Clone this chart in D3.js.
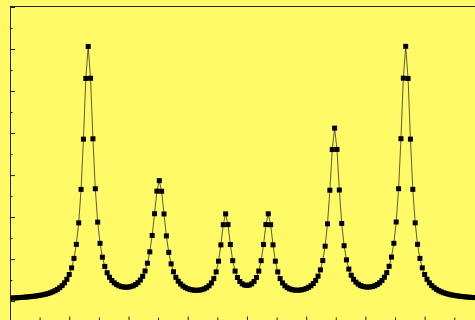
<!DOCTYPE html>
<html>
<head>
<meta charset="utf-8">
<script src="https://cdn.jsdelivr.net/npm/d3@7"></script>
<style>
    html, body { margin: 0; padding: 0; background: #fffa66; overflow: hidden; }
</style>
</head>
<body>
<div id="chart"></div>
<script>
const xValues = [
    0, 0.04, 0.08, 0.12, 0.16, 0.2, 0.24, 0.28, 0.32, 0.36,
    0.4, 0.44, 0.48, 0.52, 0.56, 0.6, 0.64, 0.68, 0.72, 0.76,
    0.8, 0.84, 0.88, 0.92, 0.96, 1, 1.04, 1.08, 1.12, 1.16,
    1.2, 1.24, 1.28, 1.32, 1.36, 1.4, 1.44, 1.48, 1.52, 1.56,
    1.6, 1.64, 1.68, 1.72, 1.76, 1.8, 1.84, 1.88, 1.92, 1.96,
    2, 2.04, 2.08, 2.12, 2.16, 2.2, 2.24, 2.28, 2.32, 2.36,
    2.4, 2.44, 2.48, 2.52, 2.56, 2.6, 2.64, 2.68, 2.72, 2.76,
    2.8, 2.84, 2.88, 2.92, 2.96, 3, 3.04, 3.08, 3.12, 3.16,
    3.2, 3.24, 3.28, 3.32, 3.36, 3.4, 3.44, 3.48, 3.52, 3.56,
    3.6, 3.64, 3.68, 3.72, 3.76, 3.8, 3.84, 3.88, 3.92, 3.96,
    4, 4.04, 4.08, 4.12, 4.16, 4.2, 4.24, 4.28, 4.32, 4.36,
    4.4, 4.44, 4.48, 4.52, 4.56, 4.6, 4.64, 4.68, 4.72, 4.76,
    4.8, 4.84, 4.88, 4.92, 4.96, 5, 5.04, 5.08, 5.12, 5.16,
    5.2, 5.24, 5.28, 5.32, 5.36, 5.4, 5.44, 5.48, 5.52, 5.56,
    5.6, 5.64, 5.68, 5.72, 5.76, 5.8, 5.84, 5.88, 5.92, 5.96,
    6, 6.04, 6.08, 6.12, 6.16, 6.2, 6.24, 6.28, 6.32, 6.36,
    6.4, 6.44, 6.48, 6.52, 6.56, 6.6, 6.64, 6.68, 6.72, 6.76,
    6.8, 6.84, 6.88, 6.92, 6.96, 7, 7.04, 7.08, 7.12, 7.16,
    7.2, 7.24, 7.28, 7.32, 7.36, 7.4, 7.44, 7.48, 7.52, 7.56,
    7.6, 7.64, 7.68, 7.72, 7.76, 7.8, 7.84
];

const yValues = [
    0.071, 0.073, 0.076, 0.079, 0.084, 0.088, 0.092, 0.097, 0.102, 0.108,
    0.115, 0.122, 0.131, 0.141, 0.152, 0.165, 0.180, 0.199, 0.221, 0.247,
    0.279, 0.319, 0.369, 0.434, 0.519, 0.633, 0.791, 1.016, 1.350, 1.862,
    2.659, 3.855, 5.300, 6.061, 5.304, 3.863, 2.674, 1.880, 1.375, 1.045,
    0.826, 0.674, 0.567, 0.490, 0.434, 0.393, 0.365, 0.345, 0.334, 0.331,
    0.334, 0.345, 0.364, 0.395, 0.439, 0.502, 0.590, 0.717, 0.902, 1.172,
    1.561, 2.080, 2.617, 2.867, 2.614, 2.074, 1.552, 1.160, 0.886, 0.698,
    0.567, 0.474, 0.407, 0.358, 0.322, 0.296, 0.277, 0.265, 0.258, 0.257,
    0.262, 0.273, 0.292, 0.321, 0.365, 0.432, 0.535, 0.695, 0.950, 1.338,
    1.818, 2.076, 1.822, 1.347, 0.963, 0.714, 0.561, 0.467, 0.411, 0.382,
    0.372, 0.382, 0.411, 0.467, 0.561, 0.714, 0.963, 1.347, 1.822, 2.077,
    1.818, 1.339, 0.950, 0.695, 0.535, 0.433, 0.365, 0.321, 0.292, 0.273,
    0.262, 0.258, 0.260, 0.267, 0.280, 0.299, 0.327, 0.365, 0.418, 0.491,
    0.594, 0.743, 0.965, 1.306, 1.839, 2.639, 3.607, 4.117, 3.610, 2.644,
    1.848, 1.318, 0.981, 0.762, 0.616, 0.518, 0.450, 0.402, 0.369, 0.349,
    0.337, 0.333, 0.336, 0.347, 0.366, 0.395, 0.435, 0.491, 0.568, 0.676,
    0.828, 1.047, 1.376, 1.883, 2.675, 3.865, 5.306, 6.064, 5.299, 3.855,
    2.660, 1.862, 1.351, 1.016, 0.791, 0.633, 0.519, 0.434, 0.369, 0.319,
    0.279, 0.247, 0.221, 0.199, 0.181, 0.165, 0.152, 0.140, 0.131, 0.122,
    0.114, 0.108, 0.102, 0.096, 0.091, 0.087, 0.083
];

// Tick positions (no labels in the reference)
const xMajorTicks = [0, 1, 2, 3, 4, 5, 6, 7];
const xMinorTicks = [0.5, 1.5, 2.5, 3.5, 4.5, 5.5, 6.5, 7.5];
const yMajorTicks = [0, 1, 2, 3, 4, 5, 6, 7];
const yMinorTicks = [0.5, 1.5, 2.5, 3.5, 4.5, 5.5, 6.5];

const width = 475;
const height = 320;
const bg = "#fffa66";

const svg = d3.select("#chart")
    .append("svg")
    .attr("width", width)
    .attr("height", height)
    .style("display", "block");

svg.append("rect")
    .attr("width", width)
    .attr("height", height)
    .attr("fill", bg);

// Scales: the plot frame is cut off on the right and bottom
const x = d3.scaleLinear().domain([0, 7.85]).range([10, 475]);
const y = d3.scaleLinear().domain([-0.45, 7]).range([320, 7]);

svg.append("clipPath")
    .attr("id", "plot-clip")
    .append("rect")
    .attr("x", 11)
    .attr("y", 7)
    .attr("width", width - 11)
    .attr("height", height - 7);

const points = xValues.map((v, i) => ({ x: v, y: yValues[i] }));

const plot = svg.append("g").attr("clip-path", "url(#plot-clip)");

// Thin connecting line
plot.append("path")
    .datum(points)
    .attr("fill", "none")
    .attr("stroke", "#333")
    .attr("stroke-width", 0.8)
    .attr("d", d3.line().x(d => x(d.x)).y(d => y(d.y)));

// Square markers
plot.selectAll(".pt")
    .data(points)
    .enter()
    .append("rect")
    .attr("class", "pt")
    .attr("x", d => x(d.x) - 2.5)
    .attr("y", d => y(d.y) - 2.5)
    .attr("width", 5)
    .attr("height", 5)
    .attr("fill", "#000");

// Left axis: major + minor inward ticks
svg.append("g")
    .attr("transform", "translate(10,0)")
    .call(d3.axisLeft(y).tickValues(yMajorTicks).tickSize(-5).tickSizeOuter(0).tickFormat(""))
    .call(g => g.selectAll("line, path").attr("stroke", "#222"));

svg.append("g")
    .attr("transform", "translate(10,0)")
    .call(d3.axisLeft(y).tickValues(yMinorTicks).tickSize(-2.5).tickSizeOuter(0).tickFormat(""))
    .call(g => g.select(".domain").remove())
    .call(g => g.selectAll("line").attr("stroke", "#222"));

// Bottom axis sits just below the visible area; only ticks show
svg.append("g")
    .attr("transform", "translate(0,320)")
    .call(d3.axisBottom(x).tickValues(xMajorTicks).tickSize(-3.5).tickSizeOuter(0).tickFormat(""))
    .call(g => g.selectAll("line, path").attr("stroke", "#222"));

svg.append("g")
    .attr("transform", "translate(0,320)")
    .call(d3.axisBottom(x).tickValues(xMinorTicks).tickSize(-2.5).tickSizeOuter(0).tickFormat(""))
    .call(g => g.select(".domain").remove())
    .call(g => g.selectAll("line").attr("stroke", "#222"));

// Top frame line
svg.append("line")
    .attr("x1", 10)
    .attr("x2", width)
    .attr("y1", 6.5)
    .attr("y2", 6.5)
    .attr("stroke", "#222")
    .attr("stroke-width", 1);
</script>
</body>
</html>
